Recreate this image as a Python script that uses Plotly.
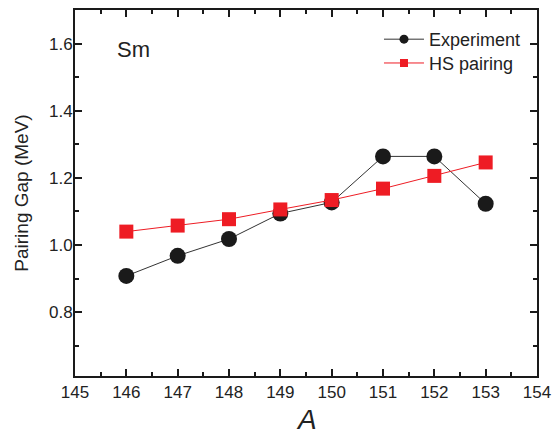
import plotly.graph_objects as go

A = [146, 147, 148, 149, 150, 151, 152, 153]
experiment = [0.908, 0.968, 1.018, 1.094, 1.127, 1.264, 1.264, 1.123]
hs_pairing = [1.040, 1.058, 1.077, 1.106, 1.134, 1.168, 1.206, 1.246]

black = "#1a1a1a"
red = "#ee1c24"
font = "Liberation Sans, Arial, sans-serif"

fig = go.Figure()
fig.add_trace(go.Scatter(x=A, y=experiment, mode="lines+markers", showlegend=False,
                         line=dict(color="#333333", width=1),
                         marker=dict(symbol="circle", size=16, color=black)))
fig.add_trace(go.Scatter(x=A, y=hs_pairing, mode="lines+markers", showlegend=False,
                         line=dict(color=red, width=1),
                         marker=dict(symbol="square", size=14, color=red)))
# legend entries with small markers
fig.add_trace(go.Scatter(x=[None], y=[None], mode="lines+markers", name="Experiment",
                         legend="legend",
                         line=dict(color="#333333", width=1),
                         marker=dict(symbol="circle", size=9, color=black)))
fig.add_trace(go.Scatter(x=[None], y=[None], mode="lines+markers", name="HS pairing",
                         legend="legend2",
                         line=dict(color=red, width=1),
                         marker=dict(symbol="square", size=8, color=red)))

axis_common = dict(showline=True, linecolor=black, linewidth=2, mirror="allticks",
                   ticks="inside", ticklen=7, tickwidth=1.5, tickcolor=black,
                   showgrid=False, zeroline=False, automargin=False,
                   tickfont=dict(family=font, size=17, color="#222222"))

fig.update_xaxes(range=[145, 154], dtick=1, tick0=145,
                 minor=dict(ticks="inside", ticklen=4, dtick=0.5, tickcolor=black, tickwidth=1.5),
                 **axis_common)
fig.update_yaxes(range=[0.61, 1.70], dtick=0.2, tick0=0.8, tickformat=".1f",
                 ticklabelstandoff=-3,
                 minor=dict(ticks="inside", ticklen=4, dtick=0.1, tickcolor=black, tickwidth=1.5),
                 title=dict(text="Pairing Gap (MeV)", font=dict(family=font, size=19, color="#222222"), standoff=15),
                 **axis_common)

# x-axis title as annotation for precise placement
fig.add_annotation(text="<i>A</i>", xref="paper", yref="paper", x=0.5, y=-0.1175,
                   xanchor="center", yanchor="middle", showarrow=False,
                   font=dict(family=font, size=28, color="#222222"))

fig.add_annotation(text="Sm", xref="paper", yref="paper", x=0.0866, y=0.891,
                   xanchor="left", yanchor="middle", showarrow=False,
                   font=dict(family=font, size=22, color="#222222"))

leg = dict(xanchor="left", yanchor="top", itemwidth=40, bgcolor="rgba(0,0,0,0)",
           font=dict(family=font, size=18, color="#222222"))
fig.update_layout(width=553, height=438, margin=dict(l=75, r=16, t=10, b=62),
                  plot_bgcolor="white", paper_bgcolor="white",
                  legend=dict(x=0.658, y=0.970, **leg),
                  legend2=dict(x=0.658, y=0.905, **leg))

fig.write_html("out.html")
